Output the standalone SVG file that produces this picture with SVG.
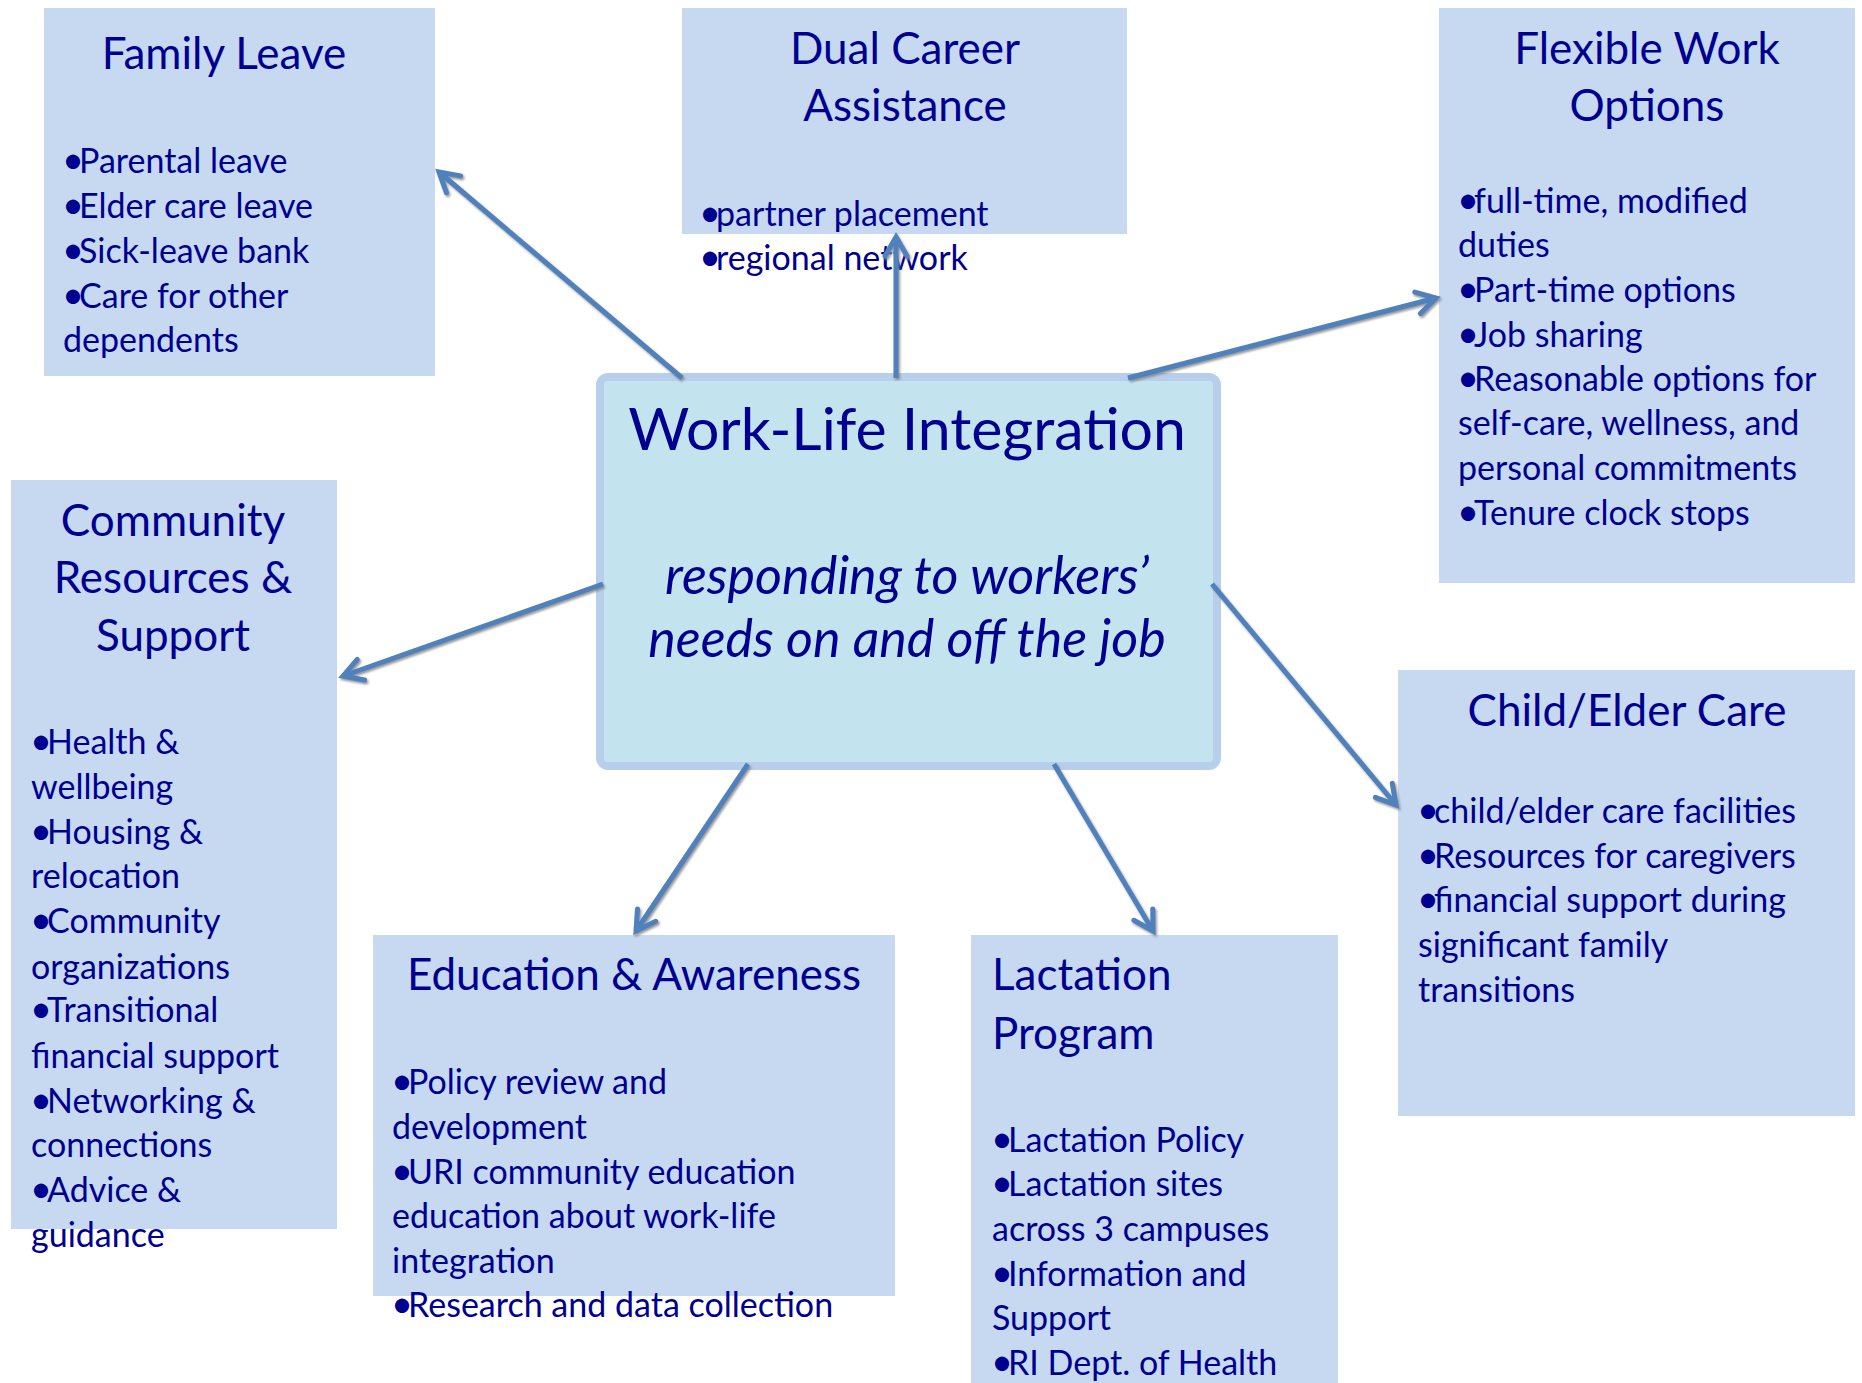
<svg xmlns="http://www.w3.org/2000/svg" width="1862" height="1383" viewBox="0 0 1862 1383">
  <defs>
    <style>
      .box { fill: #c6d9f0; }
      .hub { fill: #c3e4ee; stroke: #b8cfeb; stroke-width: 8; }
      text { fill: #000090; font-family: Lato, "Open Sans", "Noto Sans", sans-serif; }
      .ttl { font-size: 44px; }
      .itm { font-size: 34px; }
      .b { font-size: 38px; letter-spacing: -5px; }
      .mid { text-anchor: middle; }
      .hubttl { font-size: 59px; }
      .hubsub { font-size: 52px; font-style: italic; }
      .conn { stroke: #4f81bd; stroke-width: 5; fill: none; marker-end: url(#chev); }
    </style>
    <marker id="chev" viewBox="-30 -20 40 40" refX="0" refY="0" markerWidth="40" markerHeight="40" markerUnits="userSpaceOnUse" orient="auto">
      <path d="M-19,-11 L0,0 L-19,11" fill="none" stroke="#4f81bd" stroke-width="5" stroke-linejoin="miter" stroke-linecap="round"/>
    </marker>
    <filter id="shade" x="-10%" y="-10%" width="120%" height="120%">
      <feDropShadow dx="1.5" dy="2" stdDeviation="1" flood-color="#7f7f7f" flood-opacity="0.8"/>
    </filter>
  </defs>
  <rect width="1862" height="1383" fill="#ffffff"/>

  <g id="family-leave">
    <rect class="box" x="44" y="8" width="391" height="368"/>
    <text class="ttl mid" x="224" y="69">Family Leave</text>
    <text class="itm" x="62" y="173"><tspan class="b">•</tspan>Parental leave</text>
    <text class="itm" x="62" y="218"><tspan class="b">•</tspan>Elder care leave</text>
    <text class="itm" x="62" y="263"><tspan class="b">•</tspan>Sick-leave bank</text>
    <text class="itm" x="62" y="308"><tspan class="b">•</tspan>Care for other</text>
    <text class="itm" x="63" y="352">dependents</text>
  </g>

  <g id="dual-career">
    <rect class="box" x="682" y="8" width="445" height="226"/>
    <text class="ttl mid" x="905" y="64">Dual Career</text>
    <text class="ttl mid" x="905" y="121">Assistance</text>
    <text class="itm" x="699" y="226"><tspan class="b">•</tspan>partner placement</text>
    <text class="itm" x="699" y="270"><tspan class="b">•</tspan>regional network</text>
  </g>

  <g id="flexible-work">
    <rect class="box" x="1439" y="8" width="416" height="575"/>
    <text class="ttl mid" x="1647" y="64">Flexible Work</text>
    <text class="ttl mid" x="1647" y="121">Options</text>
    <text class="itm" x="1457" y="213"><tspan class="b">•</tspan>full-time, modified</text>
    <text class="itm" x="1458" y="257">duties</text>
    <text class="itm" x="1457" y="302"><tspan class="b">•</tspan>Part-time options</text>
    <text class="itm" x="1457" y="347"><tspan class="b">•</tspan>Job sharing</text>
    <text class="itm" x="1457" y="391"><tspan class="b">•</tspan>Reasonable options for</text>
    <text class="itm" x="1458" y="435">self-care, wellness, and</text>
    <text class="itm" x="1458" y="480">personal commitments</text>
    <text class="itm" x="1457" y="525"><tspan class="b">•</tspan>Tenure clock stops</text>
  </g>

  <g id="community">
    <rect class="box" x="11" y="480" width="326" height="749"/>
    <text class="ttl mid" x="173" y="536">Community</text>
    <text class="ttl mid" x="173" y="593">Resources &amp;</text>
    <text class="ttl mid" x="173" y="651">Support</text>
    <text class="itm" x="30" y="754"><tspan class="b">•</tspan>Health &amp;</text>
    <text class="itm" x="31" y="799">wellbeing</text>
    <text class="itm" x="30" y="844"><tspan class="b">•</tspan>Housing &amp;</text>
    <text class="itm" x="31" y="888">relocation</text>
    <text class="itm" x="30" y="933"><tspan class="b">•</tspan>Community</text>
    <text class="itm" x="31" y="979">organizations</text>
    <text class="itm" x="30" y="1022"><tspan class="b">•</tspan>Transitional</text>
    <text class="itm" x="31" y="1068">financial support</text>
    <text class="itm" x="30" y="1113"><tspan class="b">•</tspan>Networking &amp;</text>
    <text class="itm" x="31" y="1157">connections</text>
    <text class="itm" x="30" y="1202"><tspan class="b">•</tspan>Advice &amp;</text>
    <text class="itm" x="31" y="1247">guidance</text>
  </g>

  <g id="work-life-integration">
    <rect class="hub" x="600" y="377" width="617" height="389" rx="8"/>
    <text class="hubttl mid" x="907" y="450">Work-Life Integration</text>
    <text class="hubsub mid" x="907" y="594">responding to workers’</text>
    <text class="hubsub mid" x="907" y="657">needs on and off the job</text>
  </g>

  <g id="child-elder-care">
    <rect class="box" x="1398" y="670" width="457" height="446"/>
    <text class="ttl mid" x="1627" y="726">Child/Elder Care</text>
    <text class="itm" x="1417" y="823"><tspan class="b">•</tspan>child/elder care facilities</text>
    <text class="itm" x="1417" y="868"><tspan class="b">•</tspan>Resources for caregivers</text>
    <text class="itm" x="1417" y="912"><tspan class="b">•</tspan>financial support during</text>
    <text class="itm" x="1418" y="957">significant family</text>
    <text class="itm" x="1418" y="1002">transitions</text>
  </g>

  <g id="education-awareness">
    <rect class="box" x="373" y="935" width="522" height="361"/>
    <text class="ttl mid" x="634" y="990">Education &amp; Awareness</text>
    <text class="itm" x="391" y="1094"><tspan class="b">•</tspan>Policy review and</text>
    <text class="itm" x="392" y="1139">development</text>
    <text class="itm" x="391" y="1184"><tspan class="b">•</tspan>URI community education</text>
    <text class="itm" x="392" y="1228">education about work-life</text>
    <text class="itm" x="392" y="1273">integration</text>
    <text class="itm" x="391" y="1317"><tspan class="b">•</tspan>Research and data collection</text>
  </g>

  <g id="lactation-program">
    <rect class="box" x="971" y="935" width="367" height="448"/>
    <text class="ttl" x="992" y="990">Lactation</text>
    <text class="ttl" x="992" y="1049">Program</text>
    <text class="itm" x="991" y="1152"><tspan class="b">•</tspan>Lactation Policy</text>
    <text class="itm" x="991" y="1196"><tspan class="b">•</tspan>Lactation sites</text>
    <text class="itm" x="992" y="1241">across 3 campuses</text>
    <text class="itm" x="991" y="1286"><tspan class="b">•</tspan>Information and</text>
    <text class="itm" x="992" y="1330">Support</text>
    <text class="itm" x="991" y="1375"><tspan class="b">•</tspan>RI Dept. of Health</text>
  </g>

  <g id="connectors" filter="url(#shade)">
    <line class="conn" x1="682" y1="378" x2="439" y2="172"/>
    <line class="conn" x1="896" y1="378" x2="896" y2="237"/>
    <line class="conn" x1="1128" y1="378" x2="1436" y2="298"/>
    <line class="conn" x1="603" y1="584" x2="343" y2="676"/>
    <line class="conn" x1="1212" y1="584" x2="1396" y2="805"/>
    <line class="conn" x1="748" y1="764" x2="636" y2="931"/>
    <line class="conn" x1="1054" y1="764" x2="1153" y2="931"/>
  </g>
</svg>
